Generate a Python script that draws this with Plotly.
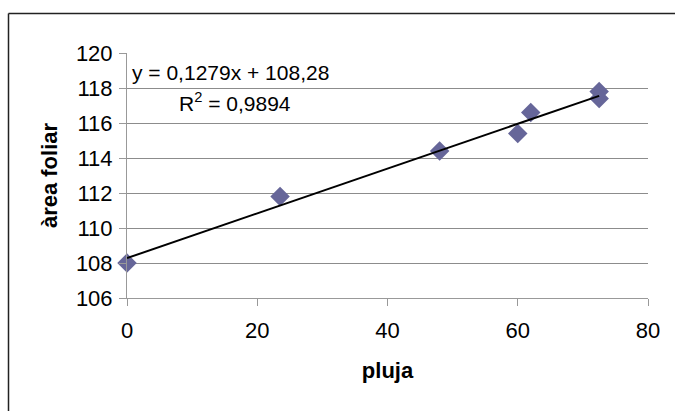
import plotly.graph_objects as go

pluja = [0, 23.5, 48, 60, 62, 72.5, 72.5]
area_foliar = [108.0, 111.8, 114.4, 115.4, 116.6, 117.8, 117.4]
slope = 0.1279
intercept = 108.28
trend_x = [min(pluja), max(pluja)]
trend_y = [slope * v + intercept for v in trend_x]
x_ticks = [0, 20, 40, 60, 80]
y_ticks = [106, 108, 110, 112, 114, 116, 118, 120]

W, H = 675, 411
ml, mr, mt, mb = 127, 27, 53, 113
pw, ph = W - ml - mr, H - mt - mb

fig = go.Figure()
fig.add_trace(go.Scatter(x=pluja, y=area_foliar, mode="markers",
                         marker=dict(symbol="diamond", size=15, color="#666699"),
                         showlegend=False, cliponaxis=False))
fig.add_trace(go.Scatter(x=trend_x, y=trend_y, mode="lines",
                         line=dict(color="black", width=2), showlegend=False))

bx0 = (8.5 - ml) / pw
bx1 = (W + 20 - ml) / pw
by1 = (mt + ph - 13.5) / ph
by0 = (mt + ph - H - 20) / ph

font = "Liberation Sans, Arial, sans-serif"
fig.update_layout(
    width=W, height=H, margin=dict(l=ml, r=mr, t=mt, b=mb),
    paper_bgcolor="white", plot_bgcolor="white",
    font=dict(family=font, size=22, color="black"),
    xaxis=dict(range=[0, 80], tickvals=x_ticks, showgrid=False, zeroline=False,
               showline=True, linecolor="#999999", linewidth=1,
               ticks="outside", ticklen=7, tickcolor="#999999",
               tickfont=dict(size=22), ticklabelstandoff=6,
               title=dict(text="<b>pluja</b>", font=dict(size=22), standoff=20)),
    yaxis=dict(range=[106, 120], tickvals=y_ticks, showgrid=True, gridcolor="#8c8c8c",
               gridwidth=1, zeroline=False, showline=True, linecolor="#999999",
               ticks="outside", ticklen=7, tickcolor="#999999",
               tickfont=dict(size=22), ticklabelstandoff=2,
               title=dict(text="<b>àrea foliar</b>", font=dict(size=22), standoff=12)),
    shapes=[
        dict(type="line", xref="paper", yref="paper", x0=bx0, x1=bx1, y0=by1, y1=by1,
             line=dict(color="#222222", width=1.5), layer="below"),
        dict(type="line", xref="paper", yref="paper", x0=bx0, x1=bx0, y0=by0, y1=by1,
             line=dict(color="#222222", width=1.5), layer="below"),
    ],
    annotations=[
        dict(xref="paper", yref="paper", x=(130 - ml) / pw, y=(mt + ph - 72) / ph,
             xanchor="left", yanchor="middle", showarrow=False,
             text="y = 0,1279x + 108,28", font=dict(size=21)),
        dict(xref="paper", yref="paper", x=(177 - ml) / pw, y=(mt + ph - 102) / ph,
             xanchor="left", yanchor="middle", showarrow=False,
             text="R<sup>2</sup> = 0,9894", font=dict(size=21)),
    ],
)
fig.write_html("out.html")
